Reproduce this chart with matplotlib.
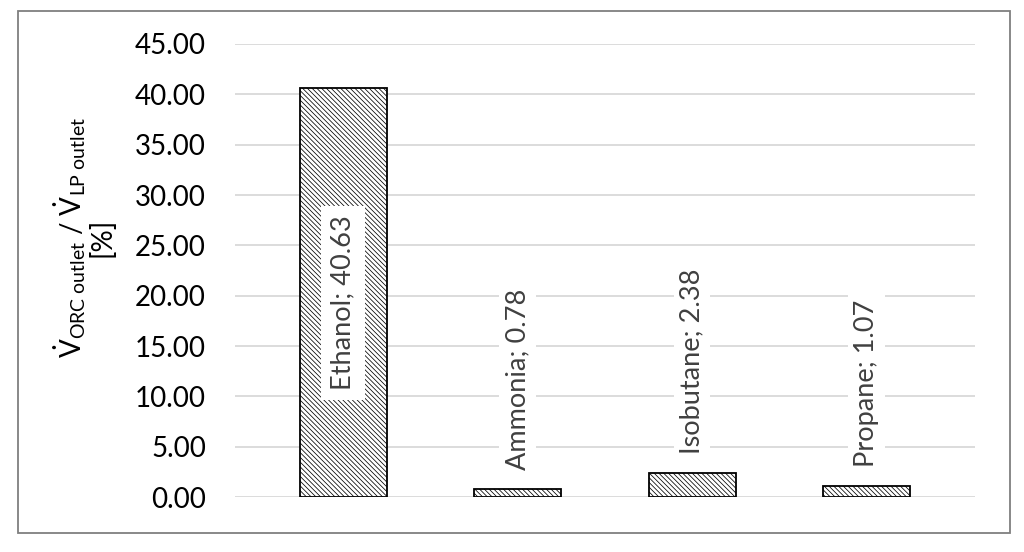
import matplotlib
matplotlib.use("Agg")
import matplotlib.pyplot as plt
from matplotlib.patches import Rectangle

plt.rcParams['font.family'] = ['Lato', 'DejaVu Sans']
plt.rcParams['mathtext.fontset'] = 'custom'
plt.rcParams['mathtext.rm'] = 'Lato'
plt.rcParams['mathtext.it'] = 'Lato:italic'
plt.rcParams['hatch.color'] = '#555555'
plt.rcParams['hatch.linewidth'] = 0.55

# données
fluids = ['Ethanol', 'Ammonia', 'Isobutane', 'Propane']
ratio = [40.63, 0.78, 2.38, 1.07]
yticks = [0, 5, 10, 15, 20, 25, 30, 35, 40, 45]

fig = plt.figure(figsize=(10.24, 5.52), dpi=100)
ax = fig.add_axes([0.2295, 0.0996, 0.7225, 0.8207])

# cadre extérieur
fig.patches.append(Rectangle((18 / 1024, 1 - 533 / 552), (1010 - 18) / 1024, (533 - 11) / 552,
                             transform=fig.transFigure, fill=False, edgecolor='#7f7f7f',
                             linewidth=1.3, zorder=0))

x = range(len(fluids))
ax.bar(x, ratio, width=0.5, color='white', edgecolor='black', linewidth=1.3,
       hatch='\\' * 7, zorder=2)

ax.set_xlim(-0.62, 3.62)
ax.set_ylim(0, 45)
ax.set_yticks(yticks)
ax.set_yticklabels(['%.2f' % v for v in yticks], fontsize=20, color='black')
ax.set_xticks([])
ax.tick_params(axis='y', length=0, pad=21)
ax.yaxis.grid(True, color='#d9d9d9', linewidth=1.3, zorder=0)
for s in ax.spines.values():
    s.set_visible(False)

# étiquettes de données
for i, (name, v) in enumerate(zip(fluids, ratio)):
    txt = '%s; %.2f' % (name, v)
    if v > 20:
        ax.text(i, v * 0.475, txt, rotation=90, ha='center', va='center',
                fontsize=19.5, color='#404040', zorder=3,
                bbox=dict(facecolor='white', edgecolor='none', pad=7))
    else:
        ax.annotate(txt, (i, v), xytext=(0, 14), textcoords='offset points',
                    rotation=90, ha='center', va='bottom', fontsize=19.5,
                    color='#404040', zorder=3,
                    bbox=dict(facecolor='white', edgecolor='none', pad=4))

# titre de l'axe y
fig.text(83.5 / 1024, 1 - 237 / 552,
         r'$\dot{\mathrm{V}}_{\mathrm{ORC\ outlet}}$ / $\dot{\mathrm{V}}_{\mathrm{LP\ outlet}}$' + '\n[%]',
         rotation=90, ha='center', va='center', multialignment='center',
         fontsize=20, linespacing=1.0)

fig.savefig('out.png', dpi=100)
